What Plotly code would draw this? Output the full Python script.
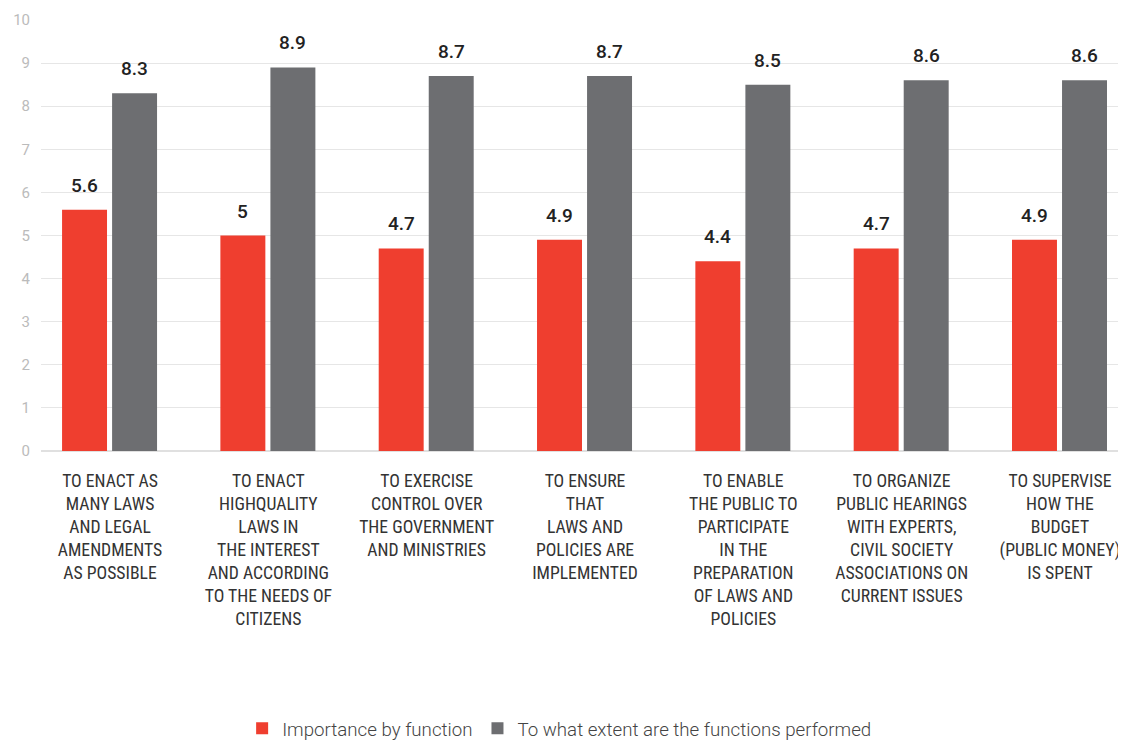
import plotly.graph_objects as go

categories = [
    "TO ENACT AS<br>MANY LAWS<br>AND LEGAL<br>AMENDMENTS<br>AS POSSIBLE",
    "TO ENACT<br>HIGHQUALITY<br>LAWS IN<br>THE INTEREST<br>AND ACCORDING<br>TO THE NEEDS OF<br>CITIZENS",
    "TO EXERCISE<br>CONTROL OVER<br>THE GOVERNMENT<br>AND MINISTRIES",
    "TO ENSURE<br>THAT<br>LAWS AND<br>POLICIES ARE<br>IMPLEMENTED",
    "TO ENABLE<br>THE PUBLIC TO<br>PARTICIPATE<br>IN THE<br>PREPARATION<br>OF LAWS AND<br>POLICIES",
    "TO ORGANIZE<br>PUBLIC HEARINGS<br>WITH EXPERTS,<br>CIVIL SOCIETY<br>ASSOCIATIONS ON<br>CURRENT ISSUES",
    "TO SUPERVISE<br>HOW THE<br>BUDGET<br>(PUBLIC MONEY)<br>IS SPENT",
]
importance = [5.6, 5, 4.7, 4.9, 4.4, 4.7, 4.9]
performed = [8.3, 8.9, 8.7, 8.7, 8.5, 8.6, 8.6]
series_names = ["Importance by function", "To what extent are the functions performed"]
y_ticks = [0, 1, 2, 3, 4, 5, 6, 7, 8, 9, 10]

RED = "#EF3E2F"
GRAY = "#6D6E71"
idx = list(range(len(categories)))

fig = go.Figure()
fig.add_trace(go.Bar(x=idx, y=importance, name=series_names[0], marker=dict(color=RED, line=dict(width=0)),
                     width=0.284, offset=-0.303))
fig.add_trace(go.Bar(x=idx, y=performed, name=series_names[1], marker=dict(color=GRAY, line=dict(width=0)),
                     width=0.284, offset=0.013))

annotations = []
for i, (a, b) in enumerate(zip(importance, performed)):
    for val, xs in ((a, -0.161), (b, 0.155)):
        annotations.append(dict(x=i + xs, y=val, xref="x", yref="y", text=f"{val:g}", showarrow=False,
                                yanchor="bottom", yshift=11,
                                font=dict(family="Roboto", size=19, color="#222222", weight=500)))

# page body has an 8px margin, so the figure is 8px smaller and margins shifted
fig.update_layout(
    width=1118, height=733,
    margin=dict(l=33, r=0, t=12, b=290, autoexpand=False),
    paper_bgcolor="white", plot_bgcolor="white",
    showlegend=True,
    legend=dict(orientation="h", x=0.478, xanchor="center", y=-0.644, yanchor="middle",
                font=dict(family="Roboto", size=18.7, color="#444444", weight=300),
                itemwidth=30, traceorder="normal"),
    annotations=annotations,
    xaxis=dict(range=[-0.436, 6.417], tickmode="array", tickvals=idx, ticktext=categories,
               showgrid=False, zeroline=False, showline=False, ticks="", ticklabelstandoff=17,
               tickfont=dict(family="Roboto Condensed, Liberation Sans Narrow, Roboto", size=17.7, color="#333333")),
    yaxis=dict(range=[0, 10], tickmode="array", tickvals=y_ticks, showgrid=True, gridcolor="#E6E6E6",
               gridwidth=1, zeroline=True, zerolinecolor="#E0E0E0", zerolinewidth=2, showline=False,
               ticks="", ticklabelstandoff=10,
               tickfont=dict(family="Roboto", size=15, color="#BBBBBB")),
)

fig.write_html("out.html")
